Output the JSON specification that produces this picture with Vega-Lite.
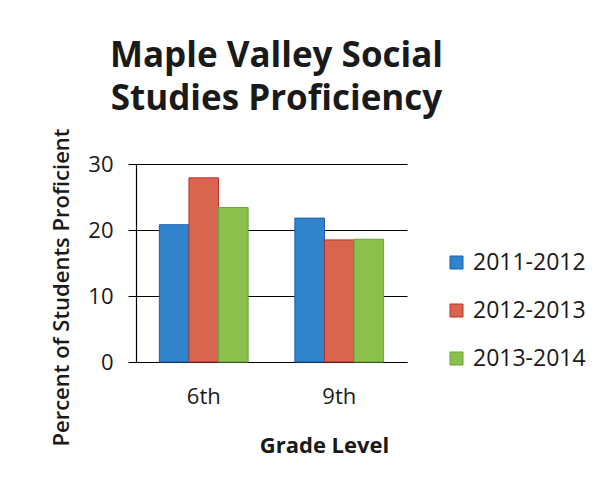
{
  "$schema": "https://vega.github.io/schema/vega-lite/v6.json",
  "autosize": "none",
  "width": 271,
  "height": 198,
  "padding": {"left": 136, "top": 164, "right": 190, "bottom": 118},
  "background": "white",
  "title": {
    "text": ["Maple Valley Social", "Studies Proficiency"],
    "font": "Open Sans",
    "fontSize": 35,
    "fontWeight": "bold",
    "color": "#1a1a1a",
    "lineHeight": 43,
    "anchor": "middle",
    "frame": "group",
    "dx": 5,
    "dy": 15,
    "offset": 26
  },
  "data": {
    "values": [
      {"grade": "6th", "year": "2011-2012", "percent": 20.8},
      {"grade": "6th", "year": "2012-2013", "percent": 27.9},
      {"grade": "6th", "year": "2013-2014", "percent": 23.4},
      {"grade": "9th", "year": "2011-2012", "percent": 21.8},
      {"grade": "9th", "year": "2012-2013", "percent": 18.5},
      {"grade": "9th", "year": "2013-2014", "percent": 18.6}
    ]
  },
  "mark": {"type": "bar", "strokeWidth": 1},
  "encoding": {
    "x": {
      "field": "grade",
      "type": "nominal",
      "scale": {"paddingInner": 0.345, "paddingOuter": 0.1725},
      "axis": {
        "title": "Grade Level",
        "titleFont": "Open Sans",
        "titleFontSize": 22,
        "titleFontWeight": "bold",
        "titleColor": "#1a1a1a",
        "titleX": 188,
        "titleY": 90,
        "titleBaseline": "alphabetic",
        "labelAngle": 0,
        "labelFont": "Open Sans",
        "labelFontSize": 22,
        "labelColor": "#1a1a1a",
        "labelPadding": 24,
        "ticks": false,
        "domainColor": "black",
        "domainWidth": 1.2
      }
    },
    "xOffset": {"field": "year", "type": "nominal"},
    "y": {
      "field": "percent",
      "type": "quantitative",
      "scale": {"domain": [0, 30]},
      "axis": {
        "values": [0, 10, 20, 30],
        "title": "Percent of Students Proficient",
        "titleFont": "Open Sans",
        "titleFontSize": 22,
        "titleFontWeight": 600,
        "titleColor": "#1a1a1a",
        "titleX": -63,
        "titleY": 123,
        "titleAngle": -90,
        "titleBaseline": "bottom",
        "labelFont": "Open Sans",
        "labelFontSize": 22,
        "labelColor": "#1a1a1a",
        "labelPadding": 15,
        "tickSize": 8,
        "tickColor": "black",
        "domainColor": "black",
        "domainWidth": 1.2,
        "gridColor": "black",
        "gridWidth": 1.2,
        "gridOpacity": 1
      }
    },
    "color": {
      "field": "year",
      "type": "nominal",
      "scale": {"domain": ["2011-2012", "2012-2013", "2013-2014"], "range": ["#3184cc", "#d9654f", "#8cc04c"]},
      "legend": {
        "title": null,
        "orient": "none",
        "legendX": 309,
        "legendY": 87,
        "symbolType": "square",
        "symbolSize": 169,
        "symbolStrokeWidth": 1,
        "labelFont": "Open Sans",
        "labelFontSize": 23,
        "labelColor": "#1a1a1a",
        "labelOffset": 5,
        "rowPadding": 24
      }
    },
    "stroke": {
      "field": "year",
      "type": "nominal",
      "scale": {"domain": ["2011-2012", "2012-2013", "2013-2014"], "range": ["#1c5fae", "#b8322a", "#6aa33a"]},
      "legend": null
    }
  },
  "config": {
    "view": {"stroke": null}
  }
}
